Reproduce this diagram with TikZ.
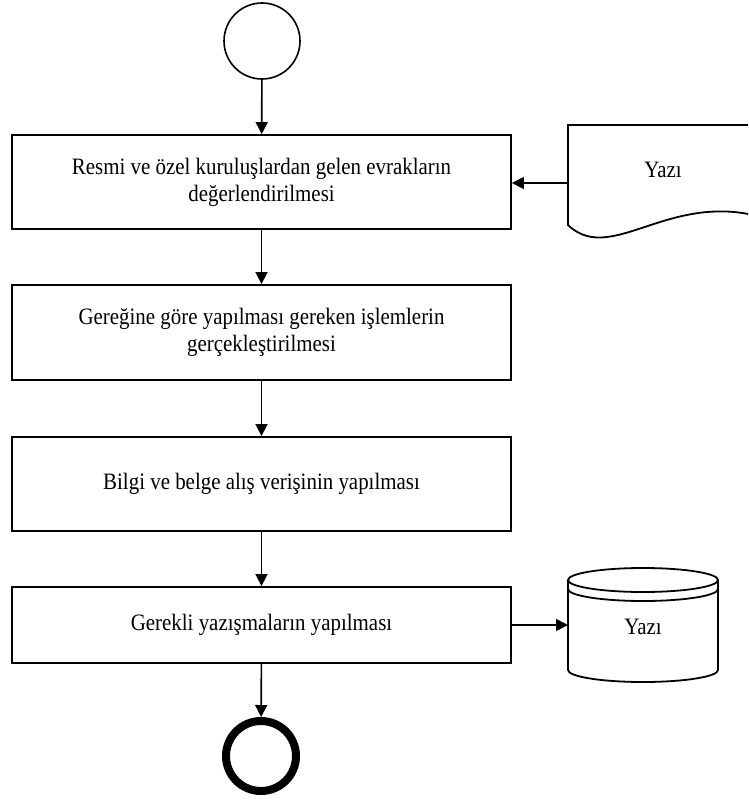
\documentclass[tikz,border=0pt]{standalone}
\usepackage{fontspec}
\setmainfont{Liberation Serif}[FakeStretch=0.89]
\usetikzlibrary{arrows.meta}

\begin{document}
\begin{tikzpicture}[x=1pt,y=-1pt,
  every node/.style={font=\fontsize{23.5}{27}\selectfont, inner sep=0pt},
  stepbox/.style={draw, line width=1.8pt, minimum width=499pt, align=center},
  startev/.style={draw, circle, line width=1.6pt, minimum size=76pt},
  endev/.style={draw, circle, line width=8pt, minimum size=70pt},
  flow/.style={line width=1.6pt, -{Triangle[length=12pt,width=12pt]}},
  shapeline/.style={line width=1.8pt, fill=white}
]
\path[use as bounding box, clip] (0,0) rectangle (748,800);

% events
\node[startev] (start) at (262,41) {};
\node[endev] (stop) at (261,756) {};

% process steps
\node[stepbox, minimum height=94pt] (s1) at (261.5,182)
  {Resmi ve özel kuruluşlardan gelen evrakların\\değerlendirilmesi};
\node[stepbox, minimum height=95pt] (s2) at (261.5,332.5)
  {Gereğine göre yapılması gereken işlemlerin\\gerçekleştirilmesi};
\node[stepbox, minimum height=94pt] (s3) at (261.5,484)
  {Bilgi ve belge alış verişinin yapılması};
\node[stepbox, minimum height=76pt] (s4) at (261.5,625)
  {Gerekli yazışmaların yapılması};

% incoming document (wavy bottom)
\draw[shapeline] (568,225) -- (568,125) -- (790,125) -- (790,228)
  .. controls (680,175) and (615,270) .. (568,225) -- cycle;
\node (doc) at (663,170) {Yazı};
\coordinate (docin) at (568,183);

% stored data (database cylinder)
\draw[shapeline] (568,580) -- (568,670)
  arc[start angle=180, end angle=0, x radius=75, y radius=12] -- (718,580);
\draw[shapeline] (643,580) ellipse[x radius=75, y radius=12];
\draw[line width=1.8pt] (568,589) arc[start angle=180, end angle=0, x radius=75, y radius=12];
\node (db) at (643,627) {Yazı};
\coordinate (dbin) at (568,625);

% connectors
\draw[flow] (start) -- (s1);
\draw[flow] (s1) -- (s2);
\draw[flow] (s2) -- (s3);
\draw[flow] (s3) -- (s4);
\draw[flow] (s4) -- (stop);
\draw[flow] (docin) -- (docin -| s1.east);
\draw[flow] (s4.east |- dbin) -- (dbin);
\end{tikzpicture}
\end{document}
